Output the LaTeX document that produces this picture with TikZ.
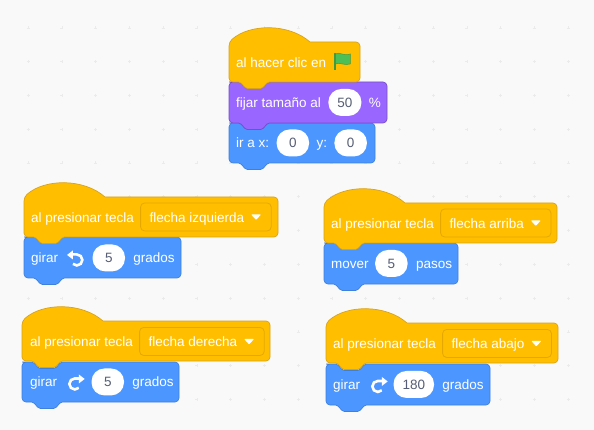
\documentclass[tikz,border=0pt]{standalone}
\usepackage{fontspec}
\setmainfont{Liberation Sans}
\usetikzlibrary{positioning}

\definecolor{eventfill}{HTML}{FFBF00}
\definecolor{eventline}{HTML}{D9A21B}
\definecolor{dropline}{HTML}{E6A800}
\definecolor{looksfill}{HTML}{9966FF}
\definecolor{looksline}{HTML}{774DCB}
\definecolor{motionfill}{HTML}{4C97FF}
\definecolor{motionline}{HTML}{3F80DD}
\definecolor{canvasbg}{HTML}{F9F9F9}
\definecolor{gridmark}{HTML}{EBEBEB}
\definecolor{pilltext}{HTML}{575E75}
\definecolor{flagfill}{HTML}{4CBF56}
\definecolor{flagline}{HTML}{45993D}

\newcommand{\hatblock}[3]{\draw[eventblock] (#1,#2) .. controls (#1+21,#2-18.6) and (#1+60,#2-18.6) .. (#1+81,#2) [rounded corners=4pt] -- (#3,#2) -- (#3,#2+40) [rounded corners=1.5pt] -- (#1+39,#2+40) -- (#1+33,#2+46.5) -- (#1+17,#2+46.5) -- (#1+11,#2+40) [rounded corners=4pt] -- (#1,#2+40) -- cycle;}
\newcommand{\stackblock}[5]{\draw[#5,rounded corners=1.5pt] (#1+4,#2) -- (#1+11,#2) -- (#1+17,#2+6.5) -- (#1+33,#2+6.5) -- (#1+39,#2) [rounded corners=4pt] -- (#3,#2) -- (#3,#4) [rounded corners=1.5pt] -- (#1+39,#4) -- (#1+33,#4+6.5) -- (#1+17,#4+6.5) -- (#1+11,#4) [rounded corners=4pt] -- (#1,#4) -- (#1,#2) -- cycle;}
\newcommand{\dropmark}[1]{\fill[white,rounded corners=.8pt] ([xshift=-20.5pt,yshift=2.5pt]#1.east) -- ++(10,0) -- ++(-5,5.5) -- cycle;}

\tikzset{
	eventblock/.style={fill=eventfill,draw=eventline,line width=.7pt},
	looksblock/.style={fill=looksfill,draw=looksline,line width=.7pt},
	motionblock/.style={fill=motionfill,draw=motionline,line width=.7pt},
	lbl/.style={text=white,font=\fontsize{13.5}{16}\selectfont,inner sep=0pt},
	pill/.style={fill=white,text=pilltext,font=\fontsize{13.5}{16}\selectfont,rounded corners=13pt,minimum width=32.5pt,minimum height=27pt,inner xsep=9pt,inner ysep=0pt,text height=9.5pt,text depth=0pt},
	dropbox/.style={draw=dropline,fill=eventfill,line width=.8pt,text=white,font=\fontsize{13.5}{16}\selectfont,rounded corners=4pt,minimum height=28pt,inner xsep=9pt,inner ysep=0pt,text height=10.9pt,text depth=0pt,execute at end node=\hspace{18pt}},
	iconbox/.style={minimum width=17.5pt,inner sep=0pt,text height=9.5pt,text depth=0pt},
	turnleft/.pic={
		\draw[white,line width=2.6pt] (-4,-5.5) -- (0,-5.5) arc[start angle=-90,end angle=135,radius=5.5];
		\fill[white] (-9.8,-5) -- (-4,-9.5) -- (-4,-0.5) -- cycle;
	},
	turnright/.pic={
		\draw[white,line width=2.6pt] (4,-5.5) -- (0,-5.5) arc[start angle=-90,end angle=-315,radius=5.5];
		\fill[white] (9.8,-5) -- (4,-9.5) -- (4,-0.5) -- cycle;
	},
	greenflag/.pic={
		\fill[flagfill,draw=flagline,line width=.5pt] (-8,-8) .. controls (-4,-10.5) and (0,-5.5) .. (7,-8) -- (7,2) .. controls (1,4) and (-4,0) .. (-8,2) -- cycle;
		\draw[flagline,line width=1.5pt] (-8.5,-8.5) -- (-8.5,8.5);
	}
}

\begin{document}
\begin{tikzpicture}[x=1pt,y=-1pt]
	\useasboundingbox (0,0) rectangle (594,430);
	\fill[canvasbg] (0,0) rectangle (594,430);
	\foreach \i in {0,...,16}
		\foreach \j in {0,...,11}
			\draw[gridmark,line width=.5pt] (28+33.75*\i-1.5,28+33.75*\j) -- (28+33.75*\i+1.5,28+33.75*\j) (28+33.75*\i,28+33.75*\j-1.5) -- (28+33.75*\i,28+33.75*\j+1.5);

	\stackblock{229}{123}{375}{163}{motionblock}
	\stackblock{229}{82}{387}{123}{looksblock}
	\hatblock{229}{42}{360}
	\stackblock{24}{237}{181}{278}{motionblock}
	\hatblock{24}{197}{278}
	\stackblock{22}{362}{179}{402}{motionblock}
	\hatblock{22}{321}{270}
	\stackblock{324}{243}{458}{284}{motionblock}
	\hatblock{324}{203}{557}
	\stackblock{326}{364}{490}{405}{motionblock}
	\hatblock{326}{323}{558}

	\node[lbl,anchor=base west] (clic) at (236,67.4) {al hacer clic en};
	\node[iconbox,base right=8pt of clic] (flag) {};
	\pic at ([yshift=.7pt]flag.center) {greenflag};

	\node[lbl,anchor=base west] (size) at (236,107.2) {fijar tamaño al};
	\node[pill,base right=7pt of size] (sizeval) {50};
	\node[lbl,base right=7pt of sizeval] (pct) {\%};

	\node[lbl,anchor=base west] (gox) at (236,147.7) {ir a x:};
	\node[pill,base right=7pt of gox] (xval) {0};
	\node[lbl,base right=7pt of xval] (goy) {y:};
	\node[pill,base right=7pt of goy] (yval) {0};

	\node[lbl,anchor=base west] (keyL) at (31,222.4) {al presionar tecla};
	\node[dropbox,base right=6pt of keyL] (dropL) {flecha izquierda};
	\dropmark{dropL}
	\node[lbl,anchor=base west] (turnL) at (31,262.7) {girar};
	\node[iconbox,base right=8pt of turnL] (iconL) {};
	\pic at ([xshift=1.5pt,yshift=-2pt]iconL.center) {turnleft};
	\node[pill,base right=8pt of iconL] (valL) {5};
	\node[lbl,base right=8pt of valL] (degL) {grados};

	\node[lbl,anchor=base west] (keyR) at (30,346.9) {al presionar tecla};
	\node[dropbox,base right=6pt of keyR] (dropR) {flecha derecha};
	\dropmark{dropR}
	\node[lbl,anchor=base west] (turnR) at (30,386.7) {girar};
	\node[iconbox,base right=8pt of turnR] (iconR) {};
	\pic at ([xshift=.5pt,yshift=-2pt]iconR.center) {turnright};
	\node[pill,base right=8pt of iconR] (valR) {5};
	\node[lbl,base right=8pt of valR] (degR) {grados};

	\node[lbl,anchor=base west] (keyU) at (331,228.4) {al presionar tecla};
	\node[dropbox,base right=6pt of keyU] (dropU) {flecha arriba};
	\dropmark{dropU}
	\node[lbl,anchor=base west] (move) at (331,268.2) {mover};
	\node[pill,base right=6pt of move] (valU) {5};
	\node[lbl,base right=8pt of valU] (steps) {pasos};

	\node[lbl,anchor=base west] (keyD) at (333,348.9) {al presionar tecla};
	\node[dropbox,base right=6pt of keyD] (dropD) {flecha abajo};
	\dropmark{dropD}
	\node[lbl,anchor=base west] (turnD) at (333,389.2) {girar};
	\node[iconbox,base right=8pt of turnD] (iconD) {};
	\pic at ([xshift=.5pt,yshift=-2pt]iconD.center) {turnright};
	\node[pill,base right=7pt of iconD] (valD) {180};
	\node[lbl,base right=8pt of valD] (degD) {grados};
\end{tikzpicture}
\end{document}
